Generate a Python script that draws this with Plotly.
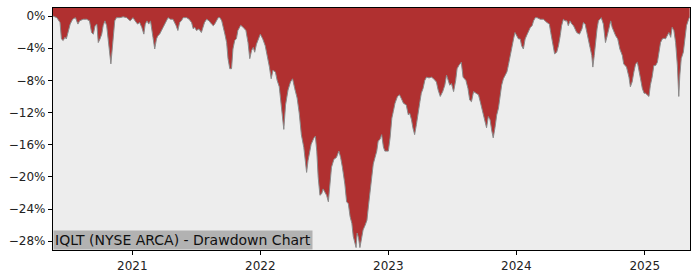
import plotly.graph_objects as go

dates = [
    "2020-05-20", "2020-05-31", "2020-06-09", "2020-06-13", "2020-06-18", "2020-06-23", "2020-06-27",
    "2020-07-01", "2020-07-08", "2020-07-15", "2020-07-23", "2020-07-30", "2020-08-04", "2020-08-14",
    "2020-08-24", "2020-09-01", "2020-09-07", "2020-09-12", "2020-09-17", "2020-09-22", "2020-09-26",
    "2020-10-01", "2020-10-06", "2020-10-10", "2020-10-15", "2020-10-20", "2020-10-24", "2020-10-29",
    "2020-11-01", "2020-11-04", "2020-11-08", "2020-11-12", "2020-11-17", "2020-11-27", "2020-12-06",
    "2020-12-16", "2020-12-26", "2021-01-03", "2021-01-09", "2021-01-16", "2021-01-22", "2021-01-28",
    "2021-02-03", "2021-02-07", "2021-02-12", "2021-02-17", "2021-02-22", "2021-02-26", "2021-03-01",
    "2021-03-06", "2021-03-11", "2021-03-15", "2021-03-20", "2021-03-30", "2021-04-06", "2021-04-13",
    "2021-04-20", "2021-04-27", "2021-05-06", "2021-05-11", "2021-05-16", "2021-05-21", "2021-05-26",
    "2021-06-05", "2021-06-12", "2021-06-19", "2021-06-24", "2021-06-28", "2021-07-03", "2021-07-10",
    "2021-07-17", "2021-07-22", "2021-07-26", "2021-08-01", "2021-08-08", "2021-08-15", "2021-08-20",
    "2021-08-24", "2021-08-29", "2021-09-03", "2021-09-08", "2021-09-13", "2021-09-22", "2021-09-27",
    "2021-10-01", "2021-10-06", "2021-10-11", "2021-10-15", "2021-10-20", "2021-10-25", "2021-10-29",
    "2021-11-06", "2021-11-13", "2021-11-21", "2021-11-27", "2021-12-02", "2021-12-07", "2021-12-12",
    "2021-12-16", "2021-12-21", "2022-01-01", "2022-01-08", "2022-01-15", "2022-01-21", "2022-01-27",
    "2022-02-01", "2022-02-06", "2022-02-13", "2022-02-18", "2022-02-24", "2022-02-27", "2022-03-05",
    "2022-03-09", "2022-03-14", "2022-03-21", "2022-03-28", "2022-04-03", "2022-04-09", "2022-04-16",
    "2022-04-22", "2022-04-28", "2022-05-05", "2022-05-10", "2022-05-13", "2022-05-17", "2022-05-22",
    "2022-05-26", "2022-06-03", "2022-06-07", "2022-06-11", "2022-06-15", "2022-06-20", "2022-06-25",
    "2022-06-29", "2022-07-04", "2022-07-09", "2022-07-14", "2022-07-18", "2022-07-23", "2022-07-30",
    "2022-08-06", "2022-08-13", "2022-08-18", "2022-08-23", "2022-08-30", "2022-09-04", "2022-09-09",
    "2022-09-14", "2022-09-19", "2022-09-23", "2022-09-28", "2022-10-01", "2022-10-04", "2022-10-08",
    "2022-10-12", "2022-10-17", "2022-10-21", "2022-10-27", "2022-11-01", "2022-11-05", "2022-11-10",
    "2022-11-15", "2022-11-19", "2022-11-24", "2022-11-29", "2022-12-03", "2022-12-08", "2022-12-13",
    "2022-12-18", "2022-12-22", "2023-01-01", "2023-01-06", "2023-01-11", "2023-01-15", "2023-01-20",
    "2023-01-27", "2023-02-02", "2023-02-09", "2023-02-13", "2023-02-21", "2023-02-27", "2023-03-03",
    "2023-03-08", "2023-03-12", "2023-03-17", "2023-03-22", "2023-03-27", "2023-04-01", "2023-04-05",
    "2023-04-10", "2023-04-15", "2023-04-20", "2023-04-27", "2023-05-04", "2023-05-10", "2023-05-18",
    "2023-05-23", "2023-05-29", "2023-06-05", "2023-06-11", "2023-06-16", "2023-06-21", "2023-06-25",
    "2023-06-30", "2023-07-06", "2023-07-12", "2023-07-16", "2023-07-21", "2023-07-28", "2023-08-02",
    "2023-08-10", "2023-08-16", "2023-08-21", "2023-08-26", "2023-09-01", "2023-09-08", "2023-09-15",
    "2023-09-20", "2023-09-24", "2023-09-29", "2023-10-04", "2023-10-08", "2023-10-13", "2023-10-18",
    "2023-10-23", "2023-10-27", "2023-11-01", "2023-11-06", "2023-11-11", "2023-11-15", "2023-11-20",
    "2023-11-25", "2023-12-05", "2023-12-09", "2023-12-14", "2023-12-19", "2023-12-24", "2023-12-28",
    "2024-01-02", "2024-01-07", "2024-01-12", "2024-01-16", "2024-01-21", "2024-01-26", "2024-02-01",
    "2024-02-05", "2024-02-10", "2024-02-15", "2024-02-19", "2024-02-24", "2024-02-29", "2024-03-09",
    "2024-03-18", "2024-03-28", "2024-04-04", "2024-04-08", "2024-04-14", "2024-04-19", "2024-04-25",
    "2024-04-30", "2024-05-05", "2024-05-09", "2024-05-14", "2024-05-19", "2024-05-24", "2024-05-28",
    "2024-06-02", "2024-06-07", "2024-06-12", "2024-06-17", "2024-06-21", "2024-06-29", "2024-07-06",
    "2024-07-10", "2024-07-15", "2024-07-20", "2024-07-25", "2024-07-29", "2024-08-03", "2024-08-06",
    "2024-08-10", "2024-08-14", "2024-08-18", "2024-08-22", "2024-08-30", "2024-09-05", "2024-09-09",
    "2024-09-11", "2024-09-16", "2024-09-21", "2024-09-26", "2024-09-30", "2024-10-05", "2024-10-10",
    "2024-10-16", "2024-10-22", "2024-10-29", "2024-11-02", "2024-11-10", "2024-11-17", "2024-11-21",
    "2024-11-26", "2024-12-01", "2024-12-06", "2024-12-11", "2024-12-15", "2024-12-20", "2024-12-25",
    "2024-12-30", "2025-01-03", "2025-01-08", "2025-01-13", "2025-01-17", "2025-01-22", "2025-01-27",
    "2025-02-01", "2025-02-06", "2025-02-11", "2025-02-15", "2025-02-20", "2025-02-25", "2025-03-01",
    "2025-03-06", "2025-03-11", "2025-03-16", "2025-03-20", "2025-03-25", "2025-03-30", "2025-04-04",
    "2025-04-08", "2025-04-11", "2025-04-15", "2025-04-21", "2025-04-25", "2025-04-30", "2025-05-06",
    "2025-05-09",
]

drawdown = [
    0.0, -0.2, -0.8, -2.85, -3.05, -2.65, -2.85,
    -2.05, -1.0, -0.4, -0.2, -1.0, -0.6, -0.4,
    -0.4, -0.6, -2.05, -2.25, -1.2, -1.0, -3.3,
    -2.85, -2.25, -1.2, -0.6, -1.2, -2.85, -4.9,
    -5.95, -4.5, -2.05, -0.6, -0.2, -0.2, -0.1,
    -0.2, -0.6, -0.2, -0.6, -1.0, -0.8, -1.4,
    -2.25, -1.0, -0.6, -1.0, -0.6, -2.05, -2.65,
    -4.1, -2.85, -2.45, -2.25, -1.4, -0.8, -0.2,
    -0.4, -0.4, -1.2, -1.8, -0.8, -0.6, -0.2,
    -0.2, -0.4, -0.8, -1.6, -1.4, -1.8, -1.6,
    -2.05, -1.2, -0.8, -0.4, -0.6, -1.0, -1.2,
    -1.0, -0.6, -0.2, -0.2, -0.6, -2.25, -3.3,
    -5.3, -6.55, -6.55, -4.1, -3.05, -2.8, -1.8,
    -1.15, -1.4, -1.8, -3.3, -5.3, -4.3, -3.9,
    -4.5, -3.5, -2.25, -2.85, -3.7, -4.9, -6.35,
    -7.8, -6.75, -6.95, -8.0, -8.8, -10.2, -12.7,
    -14.1, -11.05, -9.2, -8.2, -7.8, -9.0, -10.2,
    -12.1, -14.75, -16.35, -18.4, -19.45, -18.0, -16.8,
    -15.95, -15.15, -14.95, -16.8, -20.05, -22.3, -22.1,
    -21.5, -21.9, -22.3, -23.1, -20.9, -18.8, -17.8,
    -17.6, -16.8, -17.6, -18.8, -20.9, -23.1, -23.35,
    -24.95, -25.8, -27.4, -28.2, -28.8, -27.0, -27.6,
    -28.8, -27.8, -26.6, -26.0, -25.4, -23.75, -21.7,
    -19.25, -18.4, -17.6, -16.8, -15.55, -15.35, -14.75,
    -16.3, -16.8, -16.8, -15.15, -12.7, -11.9, -10.85,
    -10.0, -9.8, -10.45, -10.85, -11.05, -12.3, -12.1,
    -12.9, -13.9, -14.75, -13.5, -12.3, -10.65, -9.6,
    -9.0, -8.0, -7.6, -7.7, -7.6, -7.8, -8.2,
    -9.2, -10.0, -9.4, -8.6, -7.35, -8.0, -8.6,
    -8.4, -9.4, -8.0, -6.55, -6.15, -5.75, -7.6,
    -8.0, -9.0, -10.45, -10.65, -9.4, -9.6, -9.8,
    -10.65, -11.45, -12.3, -13.3, -13.9, -12.5, -12.9,
    -14.3, -15.15, -13.9, -12.3, -11.45, -9.8, -8.6,
    -7.8, -6.95, -6.15, -4.9, -3.7, -2.85, -2.05,
    -2.45, -2.85, -2.85, -3.7, -4.1, -2.85, -2.25,
    -1.8, -1.4, -1.2, -0.6, -0.2, -0.2, -0.4,
    -0.4, -0.8, -1.0, -2.05, -3.3, -4.7, -4.5,
    -3.7, -2.45, -1.2, -0.4, -0.6, -0.6, -1.2,
    -0.6, -1.0, -1.2, -1.6, -2.05, -2.25, -1.6,
    -0.8, -1.0, -2.05, -3.3, -3.9, -4.9, -6.35,
    -4.9, -2.85, -1.6, -0.6, -0.2, -1.0, -2.45,
    -3.3, -2.45, -1.6, -0.6, -1.4, -2.05, -2.45,
    -2.85, -4.1, -4.9, -5.95, -6.35, -7.6, -8.8,
    -8.2, -6.95, -5.95, -5.75, -6.55, -7.8, -9.0,
    -9.6, -9.6, -9.8, -10.0, -8.6, -7.6, -6.15,
    -6.15, -5.75, -4.1, -3.3, -2.85, -2.75, -2.85,
    -2.45, -2.05, -2.65, -1.4, -1.8, -3.3, -6.15,
    -10.0, -7.35, -5.3, -4.5, -2.85, -1.2, -0.4,
    -0.1,
]

y_ticks = [0, -4, -8, -12, -16, -20, -24, -28]
y_tick_labels = ["0%", "\u22124%", "\u22128%", "\u221212%", "\u221216%", "\u221220%", "\u221224%", "\u221228%"]
x_ticks = ["2021-01-01", "2022-01-01", "2023-01-01", "2024-01-01", "2025-01-01"]
x_tick_labels = ["2021", "2022", "2023", "2024", "2025"]
title_text = "IQLT (NYSE ARCA) - Drawdown Chart"

y_range = [-29.1, 1.0]
x_range = ["2020-05-20", "2025-05-10"]

fig = go.Figure()
# upper edge of the filled band: the top of the axis range
fig.add_trace(go.Scatter(
    x=dates, y=[y_range[1]] * len(dates), mode="lines",
    line=dict(width=0, color="rgba(0,0,0,0)"),
    hoverinfo="skip", showlegend=False,
))
fig.add_trace(go.Scatter(
    x=dates, y=drawdown, mode="lines", fill="tonexty",
    fillcolor="#b03030", line=dict(color="#8a8a8a", width=1),
    hoverinfo="skip", showlegend=False,
))

font_family = "DejaVu Sans"
fig.update_layout(
    width=700, height=280,
    margin=dict(l=53, r=10, t=7, b=28),
    paper_bgcolor="white", plot_bgcolor="#ededed",
    font=dict(family=font_family, size=12, color="#222222"),
    showlegend=False,
)
fig.update_xaxes(
    range=x_range,
    tickvals=x_ticks, ticktext=x_tick_labels,
    showgrid=False, zeroline=False,
    showline=True, linecolor="black", linewidth=1.2, mirror=True,
    ticks="outside", ticklen=4, tickcolor="black",
    tickfont=dict(size=12, family=font_family),
)
fig.update_yaxes(
    range=y_range,
    tickvals=y_ticks, ticktext=y_tick_labels,
    showgrid=False, zeroline=False,
    showline=True, linecolor="black", linewidth=1.2, mirror=True,
    ticks="outside", ticklen=4, tickcolor="black",
    tickfont=dict(size=12, family=font_family),
)
fig.add_annotation(
    xref="paper", yref="paper", x=0, y=0, xanchor="left", yanchor="bottom",
    text=title_text, showarrow=False,
    font=dict(size=14, family=font_family, color="#111111"),
    bgcolor="#b2b2b2", borderpad=1,
)

fig.write_html("out.html")
